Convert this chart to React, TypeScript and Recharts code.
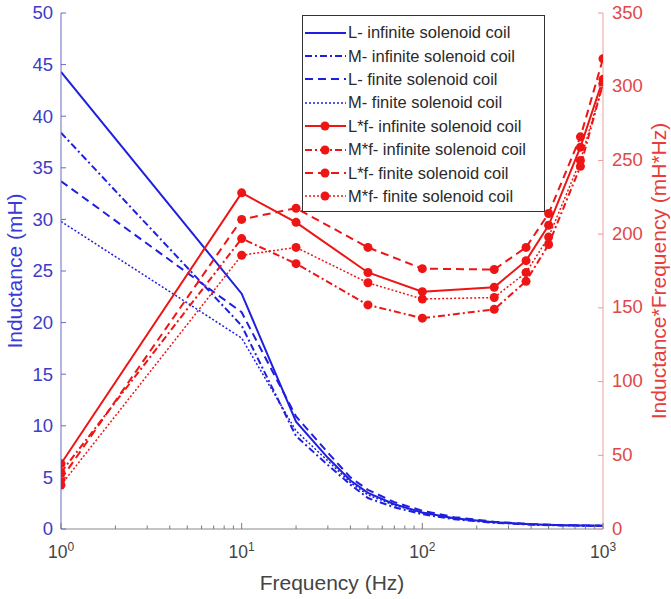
import React from 'react';
import { LineChart, Line, XAxis, YAxis, Legend, Label } from 'recharts';

// frequencies (Hz) for the inductance curves
const freqL = [1, 10, 20, 30, 40, 50, 70, 100, 150, 250, 400, 600, 1000];
const lInf = [44.3, 22.8, 10.4, 6.9, 4.7, 3.5, 2.4, 1.6, 1.05, 0.66, 0.45, 0.36, 0.31];
const mInf = [38.4, 19.7, 9.0, 6.2, 4.3, 3.0, 2.1, 1.43, 0.95, 0.6, 0.42, 0.34, 0.3];
const lFin = [33.7, 21.0, 10.9, 7.4, 5.0, 3.8, 2.6, 1.77, 1.15, 0.7, 0.48, 0.37, 0.32];
const mFin = [29.8, 18.5, 9.5, 6.6, 4.5, 3.3, 2.3, 1.56, 1.0, 0.63, 0.44, 0.35, 0.3];

// frequencies (Hz) for the inductance*frequency curves
const freqLf = [1, 10, 20, 50, 100, 250, 375, 500, 750, 1000];
const lfInf = [44.3, 228, 208, 174, 161, 164, 182, 206, 259, 305];
const mfInf = [38.4, 197, 180, 152, 143, 149, 168, 193, 246, 302];
const lfFin = [33.7, 210, 217.6, 191, 176.6, 176, 191, 214, 266, 319];
const mfFin = [29.8, 185.7, 191, 167, 156, 157, 174, 198, 250, 302];

const xMajor = [1, 10, 100, 1000];
const xTicks = [1, 2, 3, 4, 5, 6, 7, 8, 9, 10, 20, 30, 40, 50, 60, 70, 80, 90, 100, 200, 300, 400, 500, 600, 700, 800, 900, 1000];
const leftTicks = [0, 5, 10, 15, 20, 25, 30, 35, 40, 45, 50];
const rightTicks = [0, 50, 100, 150, 200, 250, 300, 350];

const BLUE = '#1f1fe0';
const RED = '#ee1515';
const FONT = '"Liberation Sans", Arial, sans-serif';

const pts = (xs: number[], ys: number[]) => xs.map((f, i) => ({ f, v: ys[i] }));

const series = [
  { name: 'L- infinite solenoid coil', data: pts(freqL, lInf), axis: 'left', color: BLUE, dash: undefined, width: 2, marker: false },
  { name: 'M- infinite solenoid coil', data: pts(freqL, mInf), axis: 'left', color: BLUE, dash: '7 3 2 3', width: 2, marker: false },
  { name: 'L- finite solenoid coil', data: pts(freqL, lFin), axis: 'left', color: BLUE, dash: '8 5', width: 2, marker: false },
  { name: 'M- finite solenoid coil', data: pts(freqL, mFin), axis: 'left', color: BLUE, dash: '2 2', width: 1.5, marker: false },
  { name: 'L*f- infinite solenoid coil', data: pts(freqLf, lfInf), axis: 'right', color: RED, dash: undefined, width: 2, marker: true },
  { name: 'M*f- infinite solenoid coil', data: pts(freqLf, mfInf), axis: 'right', color: RED, dash: '7 3 2 3', width: 2, marker: true },
  { name: 'L*f- finite solenoid coil', data: pts(freqLf, lfFin), axis: 'right', color: RED, dash: '8 5', width: 2, marker: true },
  { name: 'M*f- finite solenoid coil', data: pts(freqLf, mfFin), axis: 'right', color: RED, dash: '2 2', width: 1.5, marker: true },
];

const BottomTick = (props: any) => {
  const { x, y, payload } = props;
  const major = xMajor.includes(payload.value);
  const exp = Math.round(Math.log10(payload.value));
  return (
    <g>
      <line x1={x} x2={x} y1={y} y2={y - (major ? 6 : 3.5)} stroke="#777" />
      {major && (
        <text x={x} y={y + 29} textAnchor="middle" fill="#444" fontFamily={FONT} fontSize={17.5}>
          10<tspan dy={-7} fontSize={12}>{exp}</tspan>
        </text>
      )}
    </g>
  );
};

const TopTick = (props: any) => {
  const { x, y, payload } = props;
  const major = xMajor.includes(payload.value);
  return <line x1={x} x2={x} y1={y} y2={y + (major ? 6 : 3.5)} stroke="#777" />;
};

const LeftTick = (props: any) => {
  const { x, y, payload } = props;
  return (
    <g>
      <line x1={x} x2={x + 5} y1={y} y2={y} stroke="#6a6ac8" />
      <text x={x - 8} y={y} dy="0.35em" textAnchor="end" fill="#3c3cc8" fontFamily={FONT} fontSize={18.5}>
        {payload.value}
      </text>
    </g>
  );
};

const RightTick = (props: any) => {
  const { x, y, payload } = props;
  return (
    <g>
      <line x1={x} x2={x - 5} y1={y} y2={y} stroke="#e89a9a" />
      <text x={x + 9} y={y} dy="0.3em" textAnchor="start" fill="#e04848" fontFamily={FONT} fontSize={18.5}>
        {payload.value}
      </text>
    </g>
  );
};

const LegendBox = () => (
  <div style={{ border: '1px solid #333', background: '#fff', width: 241, height: 190, paddingTop: 5, boxSizing: 'content-box' }}>
    {series.map((s) => (
      <div key={s.name} style={{ display: 'flex', alignItems: 'center', height: 23.4 }}>
        <svg width={44} height={14} style={{ flex: 'none' }}>
          <line x1={2} x2={43} y1={7} y2={7} stroke={s.color} strokeWidth={s.width} strokeDasharray={s.dash} />
          {s.marker && <circle cx={22} cy={7} r={4.5} fill={s.color} />}
        </svg>
        <span style={{ fontFamily: FONT, fontSize: 16.5, color: '#2a2a2a', whiteSpace: 'nowrap', marginLeft: 1 }}>{s.name}</span>
      </div>
    ))}
  </div>
);

export default function App() {
  return (
    <div style={{ width: 671, height: 599, background: '#fff' }}>
      <style>{'body{margin:0}'}</style>
      <LineChart width={671} height={599} margin={{ top: 13, right: 0, bottom: 0, left: 0 }}>
        <XAxis
          xAxisId="bottom"
          dataKey="f"
          type="number"
          scale="log"
          domain={[1, 1000]}
          ticks={xTicks}
          interval={0}
          height={70}
          tickSize={0}
          tickMargin={0}
          tickLine={false}
          axisLine={{ stroke: '#888' }}
          tick={<BottomTick />}
          allowDataOverflow
        >
          <Label
            content={(p: any) => {
              const vb = p.viewBox;
              return (
                <text x={vb.x + vb.width / 2} y={vb.y + 61} textAnchor="middle" fill="#444" fontFamily={FONT} fontSize={21}>
                  Frequency (Hz)
                </text>
              );
            }}
          />
        </XAxis>
        <XAxis
          xAxisId="top"
          orientation="top"
          dataKey="f"
          type="number"
          scale="log"
          domain={[1, 1000]}
          ticks={xTicks}
          interval={0}
          height={0}
          tickSize={0}
          tickMargin={0}
          tickLine={false}
          axisLine={{ stroke: '#999' }}
          tick={<TopTick />}
          allowDataOverflow
        />
        <YAxis
          yAxisId="left"
          domain={[0, 50]}
          ticks={leftTicks}
          interval={0}
          width={61}
          tickSize={0}
          tickMargin={0}
          tickLine={false}
          axisLine={{ stroke: '#6a6ac8' }}
          tick={<LeftTick />}
        >
          <Label
            content={(p: any) => {
              const vb = p.viewBox;
              const cx = vb.x + 22;
              const cy = vb.y + vb.height / 2;
              return (
                <text x={cx} y={cy} transform={`rotate(-90 ${cx} ${cy})`} textAnchor="middle" fill="#3a3ad8" fontFamily={FONT} fontSize={21}>
                  Inductance (mH)
                </text>
              );
            }}
          />
        </YAxis>
        <YAxis
          yAxisId="right"
          orientation="right"
          domain={[0, 350]}
          ticks={rightTicks}
          interval={0}
          width={68}
          tickSize={0}
          tickMargin={0}
          tickLine={false}
          axisLine={{ stroke: '#eaa0a0' }}
          tick={<RightTick />}
        >
          <Label
            content={(p: any) => {
              const vb = p.viewBox;
              const cx = vb.x + 63;
              const cy = vb.y + vb.height / 2;
              return (
                <text x={cx} y={cy} transform={`rotate(-90 ${cx} ${cy})`} textAnchor="middle" fill="#e83c3c" fontFamily={FONT} fontSize={21}>
                  Inductance*Frequency (mH*Hz)
                </text>
              );
            }}
          />
        </YAxis>
        {series.map((s) => (
          <Line
            key={s.name}
            name={s.name}
            data={s.data}
            dataKey="v"
            xAxisId="bottom"
            yAxisId={s.axis}
            type="linear"
            stroke={s.color}
            strokeWidth={s.width}
            strokeDasharray={s.dash}
            dot={s.marker ? { r: 4.5, fill: s.color, stroke: 'none', strokeWidth: 0 } : false}
            activeDot={false}
            isAnimationActive={false}
          />
        ))}
        <Legend
          layout="vertical"
          align="center"
          verticalAlign="middle"
          content={() => <LegendBox />}
          wrapperStyle={{ position: 'absolute', left: 302, top: 15, width: 243, height: 196 }}
        />
      </LineChart>
    </div>
  );
}
